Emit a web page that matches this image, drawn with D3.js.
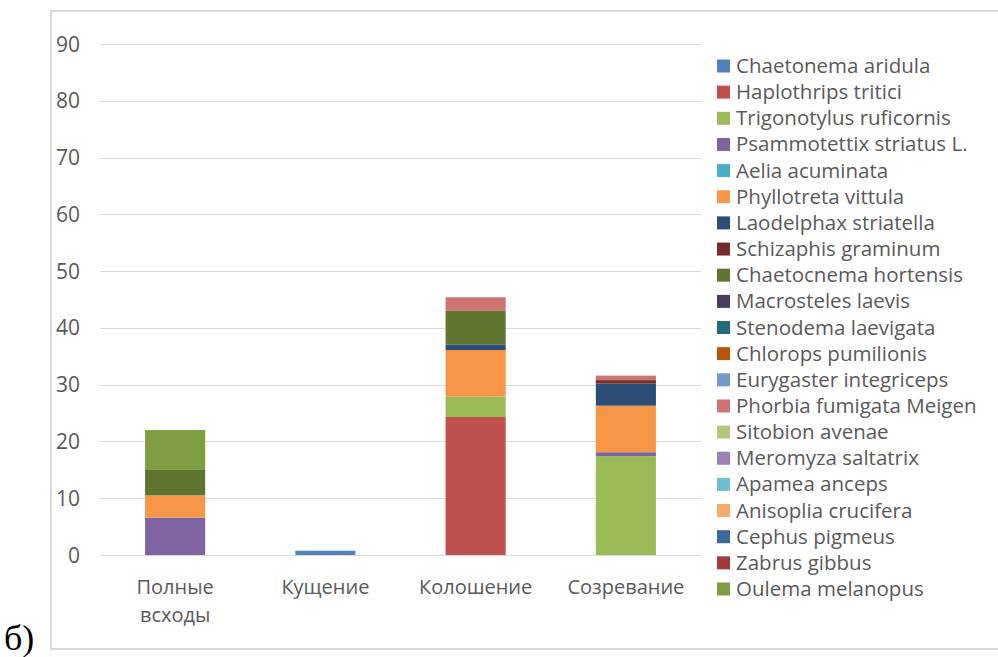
<!DOCTYPE html>
<html>
<head>
<meta charset="utf-8">
<script src="https://cdn.jsdelivr.net/npm/d3@7"></script>
<style>
  body { margin: 0; background: #fff; }
  svg { display: block; }
  text { font-family: "Open Sans", "Noto Sans", sans-serif; fill: #595959; }
</style>
</head>
<body>
<svg width="998" height="657"></svg>
<script>
var categories = ["Полные\nвсходы", "Кущение", "Колошение", "Созревание"];

var species = [
  "Chaetonema aridula", "Haplothrips tritici", "Trigonotylus ruficornis",
  "Psammotettix striatus L.", "Aelia acuminata", "Phyllotreta vittula",
  "Laodelphax striatella", "Schizaphis graminum", "Chaetocnema hortensis",
  "Macrosteles laevis", "Stenodema laevigata", "Chlorops pumilionis",
  "Eurygaster integriceps", "Phorbia fumigata Meigen", "Sitobion avenae",
  "Meromyza saltatrix", "Apamea anceps", "Anisoplia crucifera",
  "Cephus pigmeus", "Zabrus gibbus", "Oulema melanopus"
];

var colors = [
  "#4f81bd", "#c0504d", "#9bbb59", "#8064a2", "#4bacc6", "#f79646",
  "#2c4d75", "#772c2a", "#5f7530", "#4d3b62", "#276a7c", "#b65708",
  "#729aca", "#cd7371", "#afc97a", "#9983b5", "#6fbdd1", "#f9ab6b",
  "#3a679c", "#9f3b38", "#7e9d40"
];

// one row per species, one value per stage
var values = [
  [0, 0.75, 0, 0],
  [0, 0, 24.3, 0],
  [0, 0, 3.6, 17.4],
  [6.6, 0, 0, 0.7],
  [0, 0, 0, 0],
  [3.9, 0, 8.2, 8.2],
  [0, 0, 1.0, 3.9],
  [0, 0, 0, 0.6],
  [4.6, 0, 5.9, 0],
  [0, 0, 0, 0],
  [0, 0, 0, 0],
  [0, 0, 0, 0],
  [0, 0, 0, 0],
  [0, 0, 2.4, 0.8],
  [0, 0, 0, 0],
  [0, 0, 0, 0],
  [0, 0, 0, 0],
  [0, 0, 0, 0],
  [0, 0, 0, 0],
  [0, 0, 0, 0],
  [6.9, 0, 0, 0]
];

var yTicks = [0, 10, 20, 30, 40, 50, 60, 70, 80, 90];

var svg = d3.select("svg");

// outer frame
svg.append("rect")
    .attr("x", 51).attr("y", 11)
    .attr("width", 960).attr("height", 638)
    .attr("fill", "none")
    .attr("stroke", "#d9d9d9")
    .attr("stroke-width", 2);

var plot = {left: 100, right: 701, top: 44, bottom: 555};

var x = d3.scaleBand()
    .domain(categories)
    .range([plot.left, plot.right])
    .paddingInner(0.6)
    .paddingOuter(0.3);

var y = d3.scaleLinear()
    .domain([0, 90])
    .range([plot.bottom, plot.top]);

// grid lines
svg.append("g").selectAll("line")
    .data(yTicks)
    .enter().append("line")
    .attr("x1", plot.left).attr("x2", plot.right)
    .attr("y1", function(d) { return Math.round(y(d)) + 0.5; })
    .attr("y2", function(d) { return Math.round(y(d)) + 0.5; })
    .attr("stroke", "#d9d9d9")
    .attr("stroke-width", 1);

// y labels
svg.append("g").selectAll("text")
    .data(yTicks)
    .enter().append("text")
    .attr("x", 80)
    .attr("y", function(d) { return y(d) + 7.5; })
    .attr("text-anchor", "end")
    .style("font-size", "21px")
    .text(function(d) { return d; });

// stacked bars
var table = categories.map(function(c, i) {
  var row = {cat: c};
  species.forEach(function(s, j) { row[s] = values[j][i]; });
  return row;
});

var stack = d3.stack().keys(species);
var layers = stack(table);

var layer = svg.append("g").selectAll("g")
    .data(layers)
    .enter().append("g")
    .attr("fill", function(d, i) { return colors[i]; });

layer.selectAll("rect")
    .data(function(d) { return d.filter(function(p) { return p[1] > p[0]; }); })
    .enter().append("rect")
    .attr("x", function(d) { return x(d.data.cat); })
    .attr("width", x.bandwidth())
    .attr("y", function(d) { return y(d[1]); })
    .attr("height", function(d) { return y(d[0]) - y(d[1]); });

// x labels
var xl = svg.append("g").selectAll("text")
    .data(categories)
    .enter().append("text")
    .attr("x", function(d) { return x(d) + x.bandwidth() / 2; })
    .attr("y", 594)
    .attr("text-anchor", "middle")
    .style("font-size", "20px");

xl.selectAll("tspan")
    .data(function(d) { return d.split("\n"); })
    .enter().append("tspan")
    .attr("x", function() { var p = this.parentNode; return p.getAttribute("x"); })
    .attr("dy", function(d, i) { return i ? 28 : 0; })
    .text(function(d) { return d; });

// legend
var legend = svg.append("g").selectAll("g")
    .data(species)
    .enter().append("g")
    .attr("transform", function(d, i) { return "translate(717," + (66 + i * 26.15) + ")"; });

legend.append("rect")
    .attr("x", 0).attr("y", -6.5)
    .attr("width", 13).attr("height", 13)
    .attr("fill", function(d, i) { return colors[i]; });

legend.append("text")
    .attr("x", 19)
    .attr("y", 7)
    .style("font-size", "20.5px")
    .text(function(d) { return d; });

// panel label
svg.append("text")
    .attr("x", 4)
    .attr("y", 650)
    .style("font-family", "'Liberation Serif', serif")
    .style("font-size", "36px")
    .style("fill", "#000")
    .text("б)");
</script>
</body>
</html>
